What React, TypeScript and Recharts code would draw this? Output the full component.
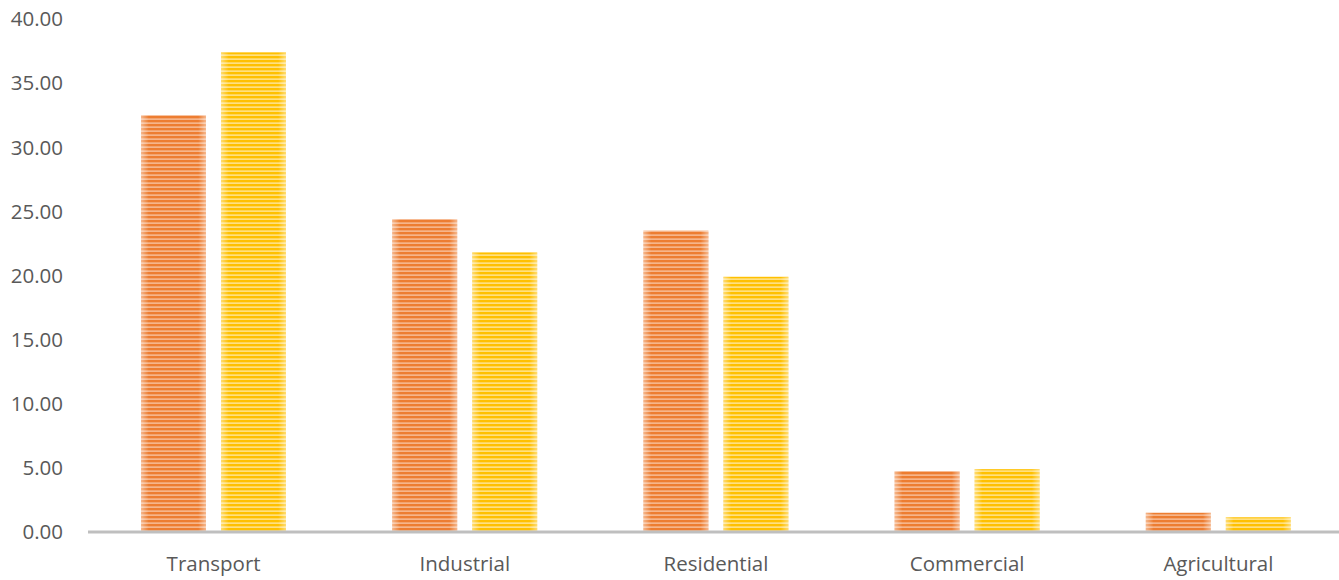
import React from "react";
import { BarChart, Bar, XAxis, YAxis } from "recharts";

const categories = ["Transport", "Industrial", "Residential", "Commercial", "Agricultural"];
const seriesA = [32.5, 24.4, 23.5, 4.75, 1.5];
const seriesB = [37.4, 21.8, 19.9, 4.9, 1.15];
const yTicks = [0, 5, 10, 15, 20, 25, 30, 35, 40];

const data = categories.map((name, i) => ({ name, a: seriesA[i], b: seriesB[i] }));

const font = "'Open Sans', sans-serif";

function StripedBar(props: any) {
  const { x, y, width, height, patternId } = props;
  if (!height || height <= 0) return null;
  return (
    <g>
      <rect x={x} y={y} width={width} height={height} fill={`url(#${patternId})`} />
      <rect x={x} y={y} width={width} height={height} fill="url(#edgeFade)" />
    </g>
  );
}

export default function App() {
  return (
    <div style={{ position: "absolute", left: 0, top: 0, width: 1339, height: 580, overflow: "hidden", background: "#fff" }}>
      <svg width={0} height={0} style={{ position: "absolute" }}>
        <defs>
          <pattern id="stripeA" patternUnits="userSpaceOnUse" width={8} height={4}>
            <rect width={8} height={4} fill="#F6B58A" />
            <rect width={8} height={2.3} fill="#ED7D31" />
          </pattern>
          <pattern id="stripeB" patternUnits="userSpaceOnUse" width={8} height={4}>
            <rect width={8} height={4} fill="#FFE080" />
            <rect width={8} height={2.3} fill="#FFC000" />
          </pattern>
          <linearGradient id="edgeFade" x1="0" y1="0" x2="1" y2="0">
            <stop offset="0" stopColor="#fff" stopOpacity={0.45} />
            <stop offset="0.12" stopColor="#fff" stopOpacity={0} />
            <stop offset="0.88" stopColor="#fff" stopOpacity={0} />
            <stop offset="1" stopColor="#fff" stopOpacity={0.45} />
          </linearGradient>
        </defs>
      </svg>
      <BarChart
        width={1344}
        height={580}
        data={data}
        margin={{ top: 19, right: 0, bottom: 0, left: 0 }}
        barCategoryGap="21.1%"
        barGap={15}
      >
        <XAxis
          dataKey="name"
          height={48}
          tickLine={false}
          axisLine={{ stroke: "#BFBFBF", strokeWidth: 3 }}
          tick={{ fill: "#595959", fontSize: 20.5, fontFamily: font }}
          tickMargin={18}
        />
        <YAxis
          width={88}
          domain={[0, 40]}
          ticks={yTicks}
          interval={0}
          axisLine={false}
          tickLine={false}
          tickMargin={19}
          tickFormatter={(v: number) => v.toFixed(2)}
          tick={{ fill: "#595959", fontSize: 20.5, fontFamily: font }}
        />
        <Bar dataKey="a" isAnimationActive={false} shape={(p: any) => <StripedBar {...p} patternId="stripeA" />} />
        <Bar dataKey="b" isAnimationActive={false} shape={(p: any) => <StripedBar {...p} patternId="stripeB" />} />
      </BarChart>
    </div>
  );
}
